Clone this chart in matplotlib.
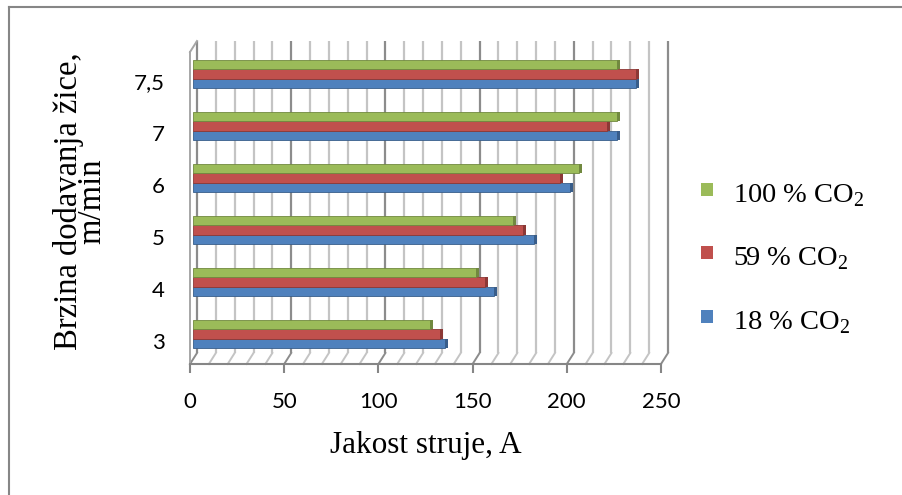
import matplotlib
matplotlib.use('Agg')
import matplotlib.pyplot as plt
import numpy as np
from matplotlib.lines import Line2D
from matplotlib.patches import Rectangle

plt.rcParams['font.family'] = 'Liberation Serif'
plt.rcParams['mathtext.fontset'] = 'custom'
plt.rcParams['mathtext.rm'] = 'Liberation Serif'

# data
categories = ['3', '4', '5', '6', '7', '7,5']
co2_18 = [134, 160, 181, 200, 225, 235]
co2_59 = [131, 155, 175, 195, 220, 235]
co2_100 = [126, 150, 170, 205, 225, 225]
series_labels = ['18 % CO$_\\mathregular{2}$', '59 % CO$_\\mathregular{2}$', '100 % CO$_\\mathregular{2}$']
x_ticks = [0, 50, 100, 150, 200, 250]

colors = ['#4F81BD', '#C0504D', '#9BBB59']
dark = ['#385D8A', '#8C3836', '#71893F']

W, H = 903, 495
fig = plt.figure(figsize=(W / 100, H / 100), dpi=100)
fig.patch.set_facecolor('white')

ax = fig.add_axes([190 / W, (H - 364) / H, 471 / W, 312 / H])
ax.set_xlim(0, 250)
ax.set_ylim(-0.5, 5.5)
ax.set_facecolor('none')
for s in ['left', 'right', 'top']:
    ax.spines[s].set_visible(False)
ax.spines['bottom'].set_color('#868686')
ax.spines['bottom'].set_linewidth(1.5)

sx = 471 / 250.0
sy = 312 / 6.0
wall_dx, wall_dy = 7 / sx, 11 / sy
bar_dx, bar_dy = 3 / sx, 4 / sy

# back wall + floor grid
for v in range(0, 251, 10):
    c = '#8c8c8c' if v % 50 == 0 else '#c4c4c4'
    ax.plot([v + wall_dx] * 2, [-0.5 + wall_dy, 5.5 + wall_dy], color=c, lw=1.6,
            clip_on=False, zorder=1, solid_capstyle='butt')
    ax.plot([v, v + wall_dx], [-0.5, -0.5 + wall_dy], color=c, lw=1.4,
            clip_on=False, zorder=1)

# left wall edge
ax.plot([0, 0], [-0.5, 5.5], color='#a6a6a6', lw=1.4, clip_on=False, zorder=1)
ax.plot([0, wall_dx], [5.5, 5.5 + wall_dy], color='#a6a6a6', lw=1.4, clip_on=False, zorder=1)

# bars
y = np.arange(len(categories))
h = 0.185
side_w = 3 / sx
for i, vals in enumerate([co2_18, co2_59, co2_100]):
    yy = y + (i - 1) * h + bar_dy
    vals = np.array(vals)
    ax.barh(yy, vals, left=bar_dx, height=h, color=colors[i], edgecolor=dark[i],
            lw=0.6, zorder=3)
    ax.barh(yy, side_w, left=vals + bar_dx, height=h, color=dark[i], lw=0, zorder=3)

# ticks
ax.set_yticks(y - 3 / sy)
ax.set_yticklabels(categories, fontfamily='Lato', fontsize=16)
ax.tick_params(axis='y', length=0, pad=18)
ax.set_xticks(x_ticks)
ax.set_xticklabels([str(t) for t in x_ticks], fontfamily='Lato', fontsize=16)
ax.tick_params(axis='x', length=6.5, width=1.5, color='#868686', pad=14)

# axis titles
fig.text(80 / W, (H - 201) / H, 'Brzina dodavanja žice,\nm/min', rotation=90,
         ha='center', va='center', multialignment='center', linespacing=0.72,
         fontsize=23.5)
fig.text(426 / W, (H - 453) / H, 'Jakost struje, A', ha='center', va='baseline',
         fontsize=22.5)

# legend
leg_sq = [316.7, 252.7, 189.3]
for i in range(3):
    fig.add_artist(Rectangle((701 / W, (H - leg_sq[i] - 6.5) / H), 12 / W, 13 / H,
                             transform=fig.transFigure, color=colors[i], lw=0))
    fig.text(733 / W, (H - leg_sq[i] - 12.5) / H, series_labels[i], ha='left',
             va='baseline', fontsize=20.5)

# chart border
fig.add_artist(Line2D([9 / W, 9 / W], [0, (H - 7) / H], color='#868686', lw=1.5,
                      transform=fig.transFigure))
fig.add_artist(Line2D([9 / W, 1], [(H - 7) / H, (H - 7) / H], color='#868686', lw=1.5,
                      transform=fig.transFigure))

fig.savefig('out.png', dpi=100)
